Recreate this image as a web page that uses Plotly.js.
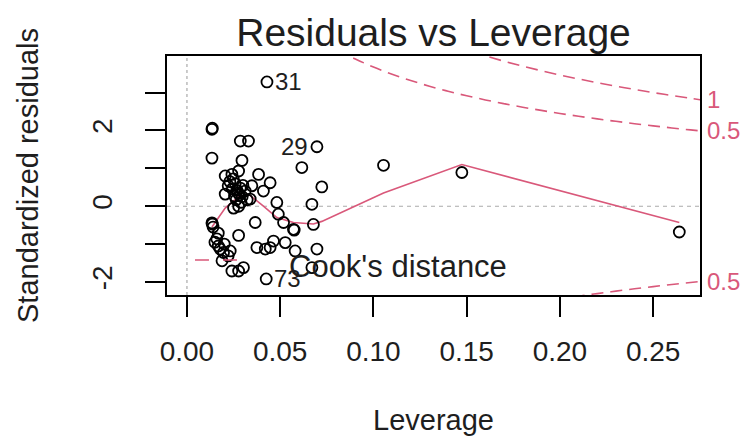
<!DOCTYPE html>
<html>
<head>
<meta charset="utf-8">
<script src="https://cdn.plot.ly/plotly-3.0.1.min.js"></script>
<style>html,body{margin:0;padding:0;background:#fff;}#chart{width:747px;height:438px;}</style>
</head>
<body>
<div id="chart"></div>
<script>
// ---- data ----
const leverage = [0.0134,0.0136,0.0134,0.0134,0.0136,0.0140,0.0168,0.0160,0.0168,0.0178,
  0.0196,0.0232,0.0221,0.0188,0.0241,0.0277,0.0303,0.0277,0.0375,0.0366,
  0.0286,0.0330,0.0295,0.0384,0.0205,0.0241,0.0277,0.0446,0.0348,0.0410,
  0.0205,0.0259,0.0286,0.0275,0.0312,0.0243,0.0296,0.0264,0.0323,0.0221,
  0.0248,0.0277,0.0339,0.0482,0.0670,0.0490,0.0518,0.0571,0.0575,0.0678,
  0.0464,0.0527,0.0420,0.0446,0.0580,0.0697,0.0670,0.0425,0.0429,0.0697,
  0.0616,0.0723,0.1054,0.1474,0.2640,0.0268,0.0282,0.0255,0.0300,0.0230,
  0.0290,0.0250,0.0150,0.0200];
const stdResid = [2.03,2.06,1.27,-0.44,-0.47,-0.55,-0.71,-0.86,-1.05,-1.13,
  -1.22,-1.18,-1.31,-1.44,-1.71,-1.71,-1.62,-0.77,-1.09,-0.43,
  1.72,1.72,1.21,0.84,0.80,0.84,0.93,0.62,0.54,0.40,
  0.32,0.59,0.48,0.35,0.40,0.46,0.25,0.17,0.17,0.54,
  0.72,0.00,0.19,0.10,0.05,-0.21,-0.43,-0.61,-0.63,-0.48,
  -0.92,-0.96,-1.13,-1.09,-1.18,-1.13,-1.62,-1.92,3.28,1.57,
  1.02,0.51,1.08,0.89,-0.68,0.42,0.30,0.27,0.55,0.65,
  0.10,-0.05,-0.95,-1.00];
const labelText = ['31','29','73'];
const labelIndex = [58,59,57];
const labelSide = ['right','left','right'];

const smoothLev = [0.0134,0.0205,0.0277,0.0330,0.0410,0.0482,0.0571,0.0678,0.0723,0.1054,0.1474,0.2640];
const smoothRes = [-0.55,-0.05,0.25,0.32,0.00,-0.30,-0.43,-0.47,-0.40,0.35,1.10,-0.43];

const cookLev = [0.08,0.09,0.10,0.11,0.12,0.13,0.14,0.15,0.16,0.17,0.18,0.19,0.20,0.21,0.22,0.23,0.24,0.25,0.26,0.27,0.28];
const cookHalfUpper = [4.153,3.894,3.674,3.484,3.317,3.168,3.036,2.915,2.806,2.706,2.614,2.529,2.449,2.375,2.306,2.241,2.179,2.121,2.066,2.014,1.964];
const cookOneUpper = [5.874,5.507,5.196,4.927,4.690,4.481,4.293,4.123,3.969,3.827,3.697,3.576,3.464,3.359,3.261,3.169,3.082,3.000,2.922,2.848,2.777];
const cookHalfLower = [-4.153,-3.894,-3.674,-3.484,-3.317,-3.168,-3.036,-2.915,-2.806,-2.706,-2.614,-2.529,-2.449,-2.375,-2.306,-2.241,-2.179,-2.121,-2.066,-2.014,-1.964];
const cookLabelY = [-1.99,1.99,2.81];
const cookLabelText = ['0.5','0.5','1'];

const xTicks = [0.00,0.05,0.10,0.15,0.20,0.25];
const yTicks = [-2,-1,0,1,2,3];
const yTickText = ['-2','','0','','2',''];

// ---- styling ----
const RED = '#D9587A';
const FONT = 'Liberation Sans, Arial, Helvetica, sans-serif';
const TXT = '#1e1e1e';
const xRange = [-0.0107, 0.2751];
const yRange = [-2.343, 3.965];

const cookLine = {color: RED, width: 1.6, dash: '12px,7px'};
const traces = [
  {x: cookLev, y: cookOneUpper, mode: 'lines', line: Object.assign({shape:'spline'}, cookLine), hoverinfo: 'skip', showlegend: false},
  {x: cookLev, y: cookHalfUpper, mode: 'lines', line: Object.assign({shape:'spline'}, cookLine), hoverinfo: 'skip', showlegend: false},
  {x: cookLev, y: cookHalfLower, mode: 'lines', line: Object.assign({shape:'spline'}, cookLine), hoverinfo: 'skip', showlegend: false},
  {x: smoothLev, y: smoothRes, mode: 'lines', line: {color: RED, width: 1.6}, showlegend: false},
  {x: leverage, y: stdResid, mode: 'markers', showlegend: false,
   marker: {symbol: 'circle-open', size: 11, color: '#000', line: {width: 1.8, color: '#000'}}},
  {x: [xRange[0]], y: [0], yaxis: 'y2', mode: 'markers', marker: {opacity: 0}, showlegend: false, hoverinfo: 'skip'}
];

const annotations = labelIndex.map((idx, i) => ({
  x: leverage[idx], y: stdResid[idx], xref: 'x', yref: 'y',
  text: labelText[i], showarrow: false,
  xanchor: labelSide[i] === 'right' ? 'left' : 'right',
  xshift: labelSide[i] === 'right' ? 6 : -7,
  font: {family: FONT, size: 24, color: TXT}
}));
annotations.push({
  x: 0.225, y: 0.121, xref: 'paper', yref: 'paper', xanchor: 'left', yanchor: 'middle',
  text: "Cook's distance", showarrow: false, font: {family: FONT, size: 31, color: TXT}
});

const shapes = [
  {type: 'line', xref: 'x', yref: 'paper', x0: 0, x1: 0, y0: 0, y1: 1, layer: 'below',
   line: {color: '#aaaaaa', width: 1.2, dash: 'dot'}},
  {type: 'line', xref: 'paper', yref: 'y', x0: 0, x1: 1, y0: 0, y1: 0, layer: 'below',
   line: {color: '#aaaaaa', width: 1.2, dash: '4px,4px'}},
  {type: 'line', xref: 'paper', yref: 'paper', x0: 0.0525, x1: 0.150, y0: 0.1464, y1: 0.1464,
   line: {color: RED, width: 1.6, dash: '14px,14px'}}
];

const layout = {
  width: 747, height: 438,
  margin: {l: 167, r: 47, t: 56, b: 143, pad: 0},
  paper_bgcolor: '#fff', plot_bgcolor: '#fff',
  font: {family: FONT, color: TXT},
  showlegend: false,
  title: {text: 'Residuals vs Leverage', font: {family: FONT, size: 39, color: TXT},
          xref: 'paper', x: 0.5, xanchor: 'center', yref: 'container', y: 0.927, yanchor: 'middle'},
  xaxis: {
    range: xRange, tickvals: xTicks, tickformat: '.2f',
    ticks: 'outside', ticklen: 20, tickwidth: 2, tickcolor: '#000',
    showline: true, mirror: true, linecolor: '#000', linewidth: 2,
    showgrid: false, zeroline: false,
    tickfont: {family: FONT, size: 28, color: TXT}, ticklabelstandoff: 10,
    title: {text: 'Leverage', font: {family: FONT, size: 29, color: TXT}, standoff: 44}
  },
  yaxis: {
    range: yRange, tickvals: yTicks, ticktext: yTickText, tickangle: -90,
    ticks: 'outside', ticklen: 20, tickwidth: 2, tickcolor: '#000',
    showline: true, mirror: true, linecolor: '#000', linewidth: 2,
    showgrid: false, zeroline: false,
    tickfont: {family: FONT, size: 28, color: TXT}, ticklabelstandoff: 22,
    title: {text: 'Standardized residuals', font: {family: FONT, size: 29, color: TXT}, standoff: 40}
  },
  yaxis2: {
    overlaying: 'y', side: 'right', range: yRange,
    tickvals: cookLabelY, ticktext: cookLabelText,
    ticks: '', showline: false, showgrid: false, zeroline: false,
    tickfont: {family: FONT, size: 24, color: RED}, ticklabelstandoff: 6
  },
  shapes: shapes,
  annotations: annotations
};

Plotly.newPlot('chart', traces, layout, {displayModeBar: false, staticPlot: true});
</script>
</body>
</html>
